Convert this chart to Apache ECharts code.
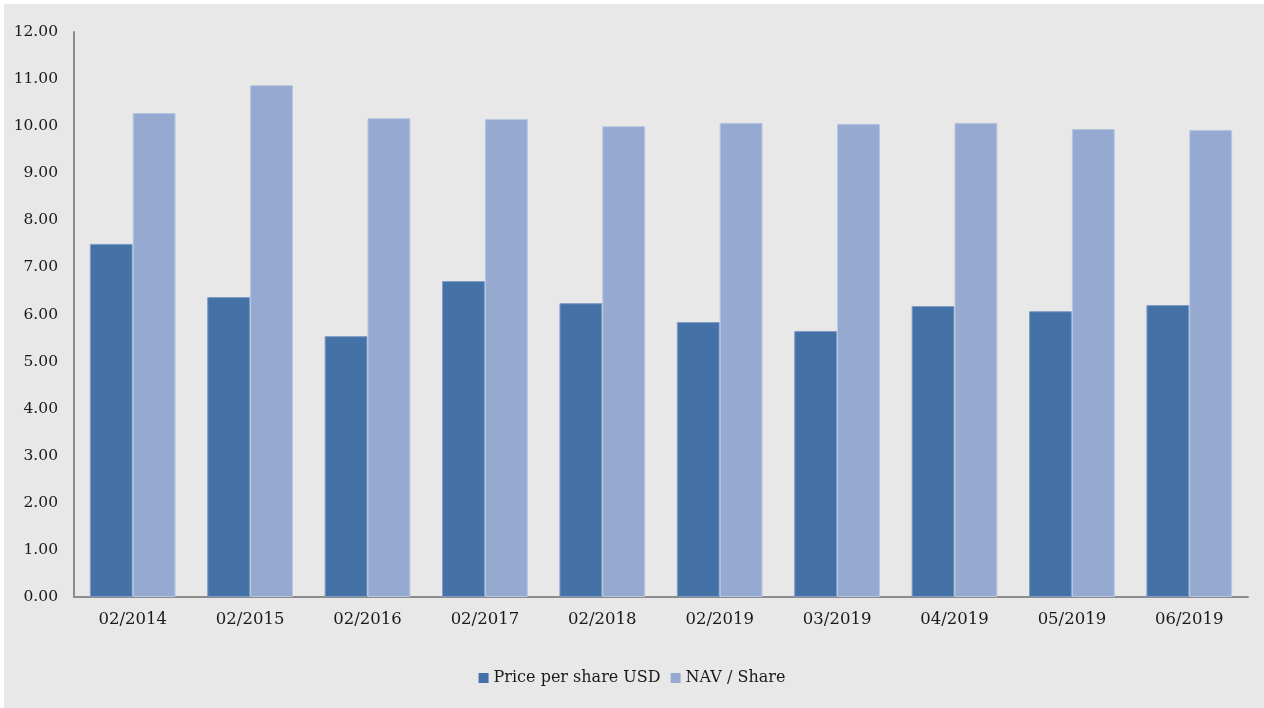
<!DOCTYPE html>
<html>
<head>
<meta charset="utf-8">
<script src="https://cdn.jsdelivr.net/npm/echarts@6/dist/echarts.min.js"></script>
<style>
  html, body { margin: 0; padding: 0; background: #ffffff; }
  #frame { position: absolute; left: 4px; top: 4px; width: 1260px; height: 704px; background: #e8e8e8; }
  #chart { position: absolute; left: -4px; top: -4px; width: 1264px; height: 708px; }
</style>
</head>
<body>
<div id="frame"><div id="chart"></div></div>
<script>
// Month labels along the category axis
const categories = ['02/2014', '02/2015', '02/2016', '02/2017', '02/2018', '02/2019', '03/2019', '04/2019', '05/2019', '06/2019'];
// Market price per share (USD)
const priceValues = [7.50, 6.37, 5.54, 6.71, 6.24, 5.84, 5.65, 6.18, 6.07, 6.20];
// Net asset value per share
const navValues = [10.28, 10.87, 10.17, 10.15, 10.00, 10.07, 10.05, 10.07, 9.94, 9.92];
const seriesNames = ['Price per share USD', 'NAV / Share'];

const FONT = '"DejaVu Serif", "Liberation Serif", serif';
const chart = echarts.init(document.getElementById('chart'));
chart.setOption({
  backgroundColor: 'transparent',
  animation: false,
  textStyle: { fontFamily: FONT, color: '#1a1a1a' },
  grid: { left: 74, right: 16, top: 32, bottom: 111 },
  legend: {
    bottom: 17,
    left: 'center',
    itemWidth: 10,
    itemHeight: 10,
    itemGap: 10,
    icon: 'rect',
    itemStyle: { borderWidth: 0 },
    textStyle: { fontFamily: FONT, fontSize: 16, color: '#1a1a1a' },
    data: seriesNames
  },
  xAxis: {
    type: 'category',
    data: categories,
    axisLine: { lineStyle: { color: '#8c8c8c', width: 2 } },
    axisTick: { show: false },
    axisLabel: { fontFamily: FONT, fontSize: 16.5, color: '#1a1a1a', margin: 14 }
  },
  yAxis: {
    type: 'value',
    min: 0,
    max: 12,
    interval: 1,
    axisLine: { show: true, lineStyle: { color: '#8c8c8c', width: 2 } },
    axisTick: { show: false },
    splitLine: { show: false },
    axisLabel: {
      fontFamily: FONT, fontSize: 15.5, color: '#1a1a1a', margin: 16,
      formatter: v => v.toFixed(2)
    }
  },
  series: [
    {
      name: seriesNames[0],
      type: 'bar',
      data: priceValues,
      barGap: '0%',
      barCategoryGap: '27%',
      itemStyle: { color: '#4472a7', borderColor: '#7d9cc4', borderWidth: 1 }
    },
    {
      name: seriesNames[1],
      type: 'bar',
      data: navValues,
      itemStyle: { color: '#95a9d1', borderColor: '#b8c6e0', borderWidth: 1 }
    }
  ]
});
</script>
</body>
</html>
